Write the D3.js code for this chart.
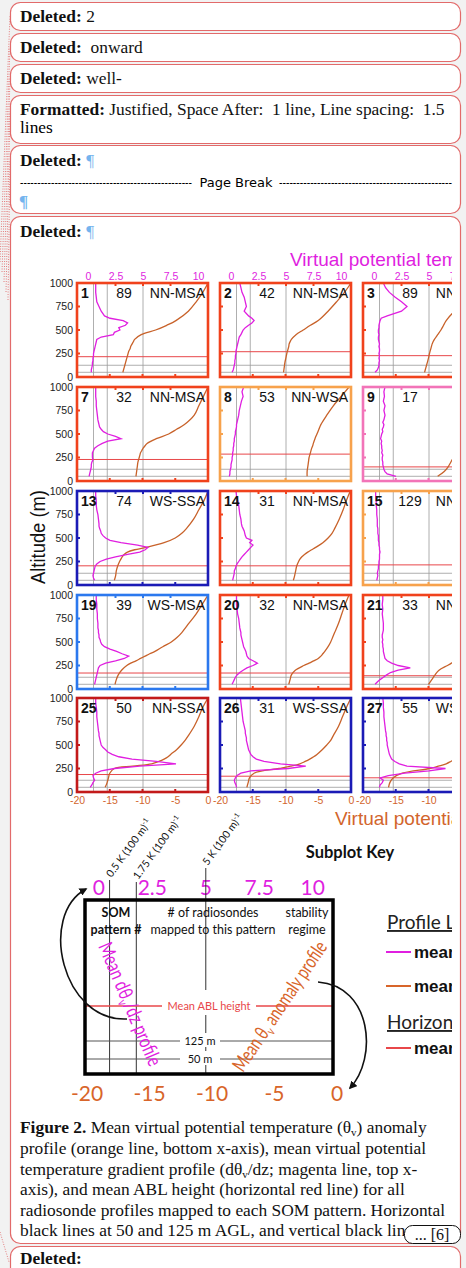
<!DOCTYPE html>
<html>
<head>
<meta charset="utf-8">
<script src="https://cdn.jsdelivr.net/npm/d3@7"></script>
<style>
body { margin: 0; background: #f2f2f2; }
svg { display: block; }
text { white-space: pre; }
</style>
</head>
<body>
<script>
// SOM panels, in reading order (only the first three columns are visible)
var panelIds = [1, 2, 3, 7, 8, 9, 13, 14, 15, 19, 20, 21, 25, 26, 27];
var panelCounts = [89, 42, 89, 32, 53, 17, 74, 31, 129, 39, 32, 33, 50, 31, 55];
var panelRegimes = ["NN-MSA", "NN-MSA", "NN-MSA", "NN-MSA", "NN-WSA", "", "WS-SSA", "NN-MSA", "NN-MSA",
	"WS-MSA", "NN-MSA", "NN-MSA", "NN-SSA", "WS-SSA", "WS-SSA"];
var panelColors = ["#f0421c", "#f0421c", "#f0421c", "#f0421c", "#f7a24c", "#f274b8", "#1b1bb6", "#f0421c", "#f7a24c",
	"#2b78ee", "#f0421c", "#f0421c", "#c31a1a", "#1b1bb6", "#1b1bb6"];
var ablHeights = [216, 269, 227, 229, 286, 150, 204, 204, 214, 170, 170, 141, 186, 168, 151];

// axes
var gradTicks = [0, 2.5, 5, 7.5, 10];
var anomTicks = [-20, -15, -10, -5, 0];
var altTicks = [0, 250, 500, 750, 1000];
var gradRefLines = [0.5, 1.75, 5];
var refHeights = [50, 125];

// mean d(theta_v)/dz profiles, K (100 m)^-1
var gradAlt = [50, 75, 100, 125, 150, 175, 200, 225, 250, 275, 300, 325, 350, 375, 400, 425, 450, 475, 500,
	525, 550, 575, 600, 625, 650, 700, 750, 800, 850, 900, 950, 1000];
var gradProfiles = [
	[0.3, 0.3, 0.35, 0.4, 0.4, 0.45, 0.45, 0.5, 0.5, 0.55, 0.6, 0.65, 0.7, 0.75, 0.8, 1.2, 2.3, 2.4, 2.9, 2.8, 3.4, 3.6, 3.2, 2.0, 1.5, 1.2, 1.0, 0.8, 0.75, 0.7, 0.7, 0.7],
	[0.1, 0.2, 0.25, 0.3, 0.35, 0.35, 0.4, 0.4, 0.45, 0.45, 0.5, 0.55, 0.6, 0.65, 0.7, 0.75, 0.9, 1.0, 1.1, 1.3, 1.6, 1.9, 2.1, 1.9, 1.6, 1.2, 1.4, 1.3, 1.2, 1.0, 0.9, 0.8],
	[0.1, 0.3, 0.4, 0.45, 0.45, 0.5, 0.45, 0.5, 0.45, 0.5, 0.5, 0.45, 0.5, 0.45, 0.4, 0.4, 0.45, 0.4, 0.4, 0.45, 0.45, 0.5, 0.55, 0.65, 1.2, 2.5, 3.0, 2.5, 1.9, 1.4, 1.05, 0.85],
	[0.1, 0.15, 0.2, 0.25, 0.3, 0.3, 0.35, 0.45, 0.4, 0.4, 0.4, 0.5, 0.6, 0.9, 1.3, 1.8, 3.0, 2.5, 1.8, 1.4, 1.2, 1.05, 1.0, 0.95, 0.9, 0.85, 0.8, 0.75, 0.75, 0.7, 0.7, 0.7],
	[-0.15, -0.1, -0.1, -0.05, 0, 0, 0.05, 0.1, 0.1, 0.15, 0.15, 0.2, 0.2, 0.25, 0.25, 0.3, 0.3, 0.35, 0.4, 0.4, 0.45, 0.5, 0.5, 0.55, 0.6, 0.7, 0.75, 0.85, 0.95, 1.1, 1.0, 1.15],
	[2.0, 1.2, 1.0, 0.9, 0.85, 0.8, 0.8, 0.75, 0.75, 0.8, 0.7, 0.75, 0.7, 0.7, 0.65, 0.7, 0.6, 0.65, 0.7, 0.8, 0.75, 0.85, 0.9, 0.8, 0.9, 1.0, 0.9, 1.0, 0.85, 0.95, 0.9, 1.0],
	[0.6, 0.5, 0.45, 0.5, 0.55, 0.6, 0.65, 0.8, 1.1, 1.67, 2.5, 3.6, 4.7, 5.2, 5.45, 4.5, 3.0, 2.0, 1.6, 1.36, 1.2, 1.15, 1.06, 1.0, 1.0, 0.95, 0.9, 0.8, 0.75, 0.75, 0.7, 0.7],
	[0.15, 0.2, 0.25, 0.3, 0.3, 0.4, 0.45, 0.55, 0.7, 0.85, 1.0, 1.2, 1.4, 1.6, 1.8, 2.0, 1.7, 1.9, 1.4, 1.3, 1.25, 1.2, 1.1, 1.0, 0.95, 0.9, 0.8, 0.75, 0.7, 0.6, 0.5, 0.45],
	[0.25, 0.3, 0.35, 0.3, 0.35, 0.4, 0.4, 0.45, 0.45, 0.5, 0.5, 0.5, 0.55, 0.5, 0.5, 0.45, 0.45, 0.4, 0.4, 0.4, 0.35, 0.35, 0.35, 0.3, 0.3, 0.3, 0.25, 0.25, 0.2, 0.2, 0.15, 0.15],
	[0.6, 0.65, 0.7, 0.75, 0.8, 0.85, 0.9, 0.95, 1.1, 1.6, 2.5, 3.3, 3.7, 3.1, 2.6, 2.0, 1.5, 1.25, 1.15, 1.1, 1.0, 1.0, 0.95, 0.95, 0.9, 0.9, 0.85, 0.85, 0.8, 0.8, 0.75, 0.75],
	[0.1, 0.2, 0.3, 0.4, 0.55, 0.8, 1.1, 1.45, 2.0, 2.4, 2.0, 1.6, 1.45, 1.4, 1.35, 1.25, 1.15, 1.1, 1.05, 1.0, 0.95, 0.9, 0.9, 0.85, 0.8, 0.75, 0.7, 0.6, 0.55, 0.5, 0.5, 0.5],
	[0.1, 0.3, 0.55, 0.85, 1.15, 1.5, 2.2, 3.3, 2.2, 1.6, 1.2, 1.0, 0.95, 0.9, 0.85, 0.85, 0.8, 0.8, 0.75, 0.8, 0.75, 0.75, 0.8, 0.85, 0.85, 0.85, 0.8, 0.75, 0.8, 0.75, 0.8, 0.8],
	[0.2, 0.35, 0.45, 0.6, 0.5, 0.45, 0.7, 1.2, 2.4, 4.7, 8.0, 6.2, 4.0, 2.8, 2.2, 1.8, 1.6, 1.35, 1.2, 1.15, 1.1, 1.05, 1.0, 1.0, 0.95, 0.9, 0.85, 0.8, 0.8, 0.75, 0.7, 0.7],
	[0.5, 0.45, 0.35, 0.3, 0.4, 0.55, 0.9, 1.8, 5.2, 6.8, 4.5, 3.0, 2.3, 2.0, 1.8, 1.7, 1.6, 1.55, 1.5, 1.45, 1.4, 1.4, 1.35, 1.3, 1.3, 1.2, 1.1, 1.05, 1.0, 0.95, 0.9, 0.85],
	[0.5, 0.55, 0.75, 0.85, 0.55, 1.3, 2.8, 5.0, 6.5, 3.0, 2.3, 1.9, 1.6, 1.5, 1.4, 1.35, 1.3, 1.25, 1.2, 1.2, 1.15, 1.15, 1.1, 1.1, 1.05, 1.0, 0.95, 0.9, 0.9, 0.85, 0.85, 0.8]
];

// mean theta_v anomaly profiles, K
var anomAlt = [50, 100, 150, 200, 250, 275, 300, 325, 350, 375, 400, 450, 500, 550, 600, 700, 800, 900, 1000];
var anomProfiles = [
	[-13.0, -12.8, -12.6, -12.4, -12.2, -12.1, -11.9, -11.8, -11.6, -11.4, -11.2, -10.2, -8.0, -6.3, -4.9, -3.0, -1.8, -0.8, 0],
	[-10.3, -10.2, -10.1, -9.95, -9.8, -9.7, -9.6, -9.5, -9.45, -9.3, -9.1, -8.4, -7.3, -6.2, -5.0, -3.5, -2.2, -1.0, 0],
	[-10.6, -10.4, -10.2, -10.0, -9.85, -9.75, -9.65, -9.55, -9.45, -9.3, -9.1, -8.6, -8.1, -7.7, -7.3, -6.0, -4.0, -2.0, 0],
	[-11.0, -10.9, -10.8, -10.7, -10.5, -10.4, -10.3, -10.1, -9.9, -9.6, -9.3, -7.9, -6.0, -4.8, -3.6, -2.1, -1.4, -0.7, 0],
	[-6.7, -6.7, -6.6, -6.5, -6.4, -6.3, -6.2, -6.1, -6.0, -5.85, -5.75, -5.5, -5.2, -4.9, -4.6, -3.7, -2.7, -1.5, -0.3],
	[-8.6, -7.6, -7.0, -6.6, -6.2, -6.0, -5.7, -5.5, -5.2, -5.0, -4.8, -4.3, -3.9, -3.4, -3.0, -2.2, -1.5, -0.8, 0],
	[-14.3, -14.1, -14.0, -13.8, -13.5, -13.3, -13.1, -12.8, -12.3, -11.2, -9.4, -6.7, -5.0, -4.0, -3.3, -2.2, -1.4, -0.6, 0],
	[-8.8, -8.6, -8.45, -8.3, -8.0, -7.8, -7.5, -7.1, -6.6, -6.0, -5.4, -4.3, -3.5, -2.9, -2.5, -1.8, -1.2, -0.7, -0.1],
	[-6.2, -6.1, -6.0, -5.9, -5.8, -5.7, -5.6, -5.5, -5.4, -5.3, -5.2, -4.9, -4.6, -4.2, -3.8, -3.0, -2.0, -1.0, 0],
	[-14.2, -14.0, -13.7, -13.2, -12.4, -11.8, -11.0, -10.3, -9.6, -8.9, -8.1, -6.9, -5.6, -4.7, -4.0, -2.9, -1.8, -0.9, 0],
	[-9.5, -9.3, -9.1, -8.5, -7.2, -6.4, -5.7, -5.0, -4.6, -4.3, -4.0, -3.5, -3.1, -2.8, -2.5, -1.9, -1.4, -0.9, -0.3],
	[-10.0, -9.5, -9.0, -8.4, -7.1, -6.5, -6.0, -5.6, -5.2, -4.9, -4.6, -4.1, -3.6, -3.2, -2.8, -2.1, -1.4, -0.7, 0],
	[-15.7, -15.4, -15.2, -15.0, -14.3, -11.5, -8.6, -7.5, -6.7, -6.1, -5.7, -4.8, -4.1, -3.5, -3.0, -2.1, -1.4, -0.8, 0],
	[-15.9, -15.7, -15.5, -14.8, -11.0, -9.2, -7.8, -7.0, -6.3, -5.7, -5.2, -4.4, -3.7, -3.1, -2.7, -1.9, -1.3, -0.7, 0],
	[-16.1, -15.9, -15.4, -14.0, -9.8, -8.5, -7.3, -6.6, -6.0, -5.5, -5.1, -4.4, -3.8, -3.3, -2.9, -2.1, -1.4, -0.7, 0]
];

var W = 466, H = 1268;
var MAG = "#e01fe0", ORA = "#c8622a", ABL = "#e8474a";
var sansF = "'Liberation Sans', Arial, sans-serif";
var serifF = "'Liberation Serif', 'Times New Roman', serif";
var keyF = "Lato, 'Open Sans', sans-serif";
var plain = function(d) { return String(d); };

var svg = d3.select("body").append("svg").attr("width", W).attr("height", H);

var defs = svg.append("defs");
defs.append("clipPath").attr("id", "figclip")
	.append("rect").attr("x", 10).attr("y", 216).attr("width", 442).attr("height", 1020);
defs.append("marker").attr("id", "arrow").attr("viewBox", "0 0 10 10")
	.attr("refX", 8).attr("refY", 5).attr("markerWidth", 5).attr("markerHeight", 5)
	.attr("orient", "auto")
	.append("path").attr("d", "M0,0L10,5L0,10z").attr("fill", "#111");

// left margin connector lines
var connectors = [[0, 262, 10, 16], [2, 272, 10, 47], [4, 282, 10, 78], [6, 292, 10, 112], [8, 300, 10, 160], [0, 1232, 9, 1262]];
connectors.forEach(function(c) {
	svg.append("line").attr("x1", c[0]).attr("y1", c[1]).attr("x2", c[2]).attr("y2", c[3])
		.attr("stroke", "#e06060").attr("stroke-width", 0.8).attr("stroke-dasharray", "1,1.5");
});

// comment balloons
var balloons = [[2, 28], [33, 28], [64, 28], [95, 48], [145, 68], [216, 1027], [1246, 40]];
balloons.forEach(function(b) {
	svg.append("rect").attr("x", 10.5).attr("y", b[0] + 0.5).attr("width", 450).attr("height", b[1])
		.attr("rx", 10).attr("fill", "#fff").attr("stroke", "#e26a6a").attr("stroke-width", 1.2);
});

function balloonText(y, label, rest, restFill) {
	var t = svg.append("text").attr("x", 20).attr("y", y)
		.style("font-family", serifF).style("font-size", "17.4px").attr("fill", "#111");
	t.append("tspan").style("font-weight", "bold").text(label);
	if (rest) t.append("tspan").attr("fill", restFill || "#111").text(rest);
	return t;
}
balloonText(22, "Deleted:", " 2");
balloonText(53, "Deleted:", "  onward");
balloonText(84, "Deleted:", " well-");
balloonText(115, "Formatted:", " Justified, Space After:  1 line, Line spacing:  1.5");
svg.append("text").attr("x", 20).attr("y", 133).style("font-family", serifF).style("font-size", "17.4px").text("lines");
balloonText(166, "Deleted:", " ¶", "#74b4ee");
svg.append("text").attr("x", 20).attr("y", 187).attr("textLength", 172).attr("lengthAdjust", "spacingAndGlyphs")
	.style("font-family", "'DejaVu Sans', sans-serif").style("font-size", "13px").text("--------------------------------------------------");
svg.append("text").attr("x", 236).attr("y", 187).attr("text-anchor", "middle")
	.style("font-family", "'DejaVu Sans', sans-serif").style("font-size", "13px").text("Page Break");
svg.append("text").attr("x", 279).attr("y", 187).attr("textLength", 173).attr("lengthAdjust", "spacingAndGlyphs")
	.style("font-family", "'DejaVu Sans', sans-serif").style("font-size", "13px").text("--------------------------------------------------");
svg.append("text").attr("x", 19).attr("y", 207).attr("fill", "#74b4ee")
	.style("font-family", serifF).style("font-size", "17px").style("font-weight", "bold").text("¶");
balloonText(237, "Deleted:", " ¶", "#74b4ee");
balloonText(1264, "Deleted:", "");

// ---- figure: small multiples ----
var fig = svg.append("g").attr("clip-path", "url(#figclip)");
var colLeft = [77, 220, 363], rowTop = [283, 387, 491, 595, 698];
var pw = 131, ph = 94;

var xGrad = d3.scaleLinear().domain([-1, 120 / 11]).range([0, pw]);
var xAnom = d3.scaleLinear().domain([-20, 0]).range([0, pw]);
var yAlt = d3.scaleLinear().domain([0, 1000]).range([ph, 0]);

var gradLine = d3.line().x(function(d) { return xGrad(d[1]); }).y(function(d) { return yAlt(d[0]); });
var anomLine = d3.line().x(function(d) { return xAnom(d[1]); }).y(function(d) { return yAlt(d[0]); })
	.curve(d3.curveCatmullRom.alpha(0.5));

fig.append("text").attr("x", 290).attr("y", 266).attr("fill", MAG)
	.style("font-family", sansF).style("font-size", "19px").text("Virtual potential temperature gradient");
fig.append("text").attr("x", 335).attr("y", 825).attr("fill", "#d2652c")
	.style("font-family", sansF).style("font-size", "19px").text("Virtual potential temperature anomaly");
fig.append("text").attr("transform", "translate(45,537) rotate(-90)").attr("text-anchor", "middle")
	.attr("textLength", 94).attr("lengthAdjust", "spacingAndGlyphs")
	.style("font-family", sansF).style("font-size", "20px").attr("fill", "#111").text("Altitude (m)");

panelIds.forEach(function(id, i) {
	var col = i % 3, row = Math.floor(i / 3);
	var g = fig.append("g").attr("transform", "translate(" + colLeft[col] + "," + rowTop[row] + ")");
	var color = panelColors[i];

	g.append("rect").attr("width", pw).attr("height", ph).attr("fill", "#fff");

	g.selectAll(".vref").data(gradRefLines).enter().append("line")
		.attr("x1", function(d) { return xGrad(d); }).attr("x2", function(d) { return xGrad(d); })
		.attr("y1", 0).attr("y2", ph).attr("stroke", "#9a9a9a").attr("stroke-width", 0.8);
	g.selectAll(".href").data(refHeights).enter().append("line")
		.attr("x1", 0).attr("x2", pw).attr("y1", function(d) { return yAlt(d); }).attr("y2", function(d) { return yAlt(d); })
		.attr("stroke", "#9a9a9a").attr("stroke-width", 0.8);
	g.append("line").attr("x1", 0).attr("x2", pw).attr("y1", yAlt(ablHeights[i])).attr("y2", yAlt(ablHeights[i]))
		.attr("stroke", ABL).attr("stroke-width", 1);

	var gp = gradAlt.map(function(a, k) { return [a, gradProfiles[i][k]]; });
	var ap = anomAlt.map(function(a, k) { return [a, anomProfiles[i][k]]; });
	g.append("path").attr("d", anomLine(ap)).attr("fill", "none").attr("stroke", ORA).attr("stroke-width", 1.3);
	g.append("path").attr("d", gradLine(gp)).attr("fill", "none").attr("stroke", MAG).attr("stroke-width", 1.3);

	// inward ticks in frame colour
	[250, 500, 750].forEach(function(a) {
		g.append("line").attr("x1", 0).attr("x2", 3).attr("y1", yAlt(a)).attr("y2", yAlt(a)).attr("stroke", color).attr("stroke-width", 2);
	});
	[-15, -10, -5].forEach(function(v) {
		g.append("line").attr("x1", xAnom(v)).attr("x2", xAnom(v)).attr("y1", ph).attr("y2", ph - 3).attr("stroke", color).attr("stroke-width", 2);
	});
	[2.5, 5, 7.5].forEach(function(v) {
		g.append("line").attr("x1", xGrad(v)).attr("x2", xGrad(v)).attr("y1", 0).attr("y2", 3).attr("stroke", color).attr("stroke-width", 2);
	});
	g.append("rect").attr("width", pw).attr("height", ph).attr("fill", "none")
		.attr("stroke", color).attr("stroke-width", 2.6);

	g.append("text").attr("x", 4).attr("y", 15).style("font-family", sansF).style("font-size", "14px")
		.style("font-weight", "bold").attr("fill", "#111").text(id);
	g.append("text").attr("x", 47).attr("y", 15).attr("text-anchor", "middle").style("font-family", sansF)
		.style("font-size", "14px").attr("fill", "#111").text(panelCounts[i]);
	g.append("text").attr("x", pw - 3).attr("y", 15).attr("text-anchor", "end").style("font-family", sansF)
		.style("font-size", "14px").attr("fill", "#111").text(panelRegimes[i]);

	if (col === 0) {
		var ya = g.append("g").call(d3.axisLeft(yAlt).tickValues(altTicks).tickFormat(plain).tickSize(0).tickPadding(4));
		ya.select(".domain").remove();
		ya.selectAll("text").style("font-family", sansF).style("font-size", "10.5px").attr("fill", "#222");
	}
	if (row === 0) {
		var xt = g.append("g").call(d3.axisTop(xGrad).tickValues(gradTicks).tickFormat(plain).tickSize(0).tickPadding(3));
		xt.select(".domain").remove();
		xt.selectAll("text").style("font-family", sansF).style("font-size", "10.5px").attr("fill", MAG);
	}
	if (row === 4) {
		var xb = g.append("g").attr("transform", "translate(0," + ph + ")")
			.call(d3.axisBottom(xAnom).tickValues(anomTicks).tickFormat(plain).tickSize(0).tickPadding(5));
		xb.select(".domain").remove();
		xb.selectAll("text").style("font-family", sansF).style("font-size", "10.5px").attr("fill", "#d2652c");
	}
});

// ---- subplot key ----
var key = fig.append("g");
var kGrad = d3.scaleLinear().domain([-0.65, 10.95]).range([85, 333]);
var kAnom = d3.scaleLinear().domain([-20, 0]).range([87, 337]);
var kTop = 900, kBot = 1074;

key.append("text").attr("x", 350).attr("y", 858).attr("text-anchor", "middle").style("font-family", keyF)
	.style("font-size", "16.5px").style("font-weight", "bold").attr("fill", "#111").text("Subplot Key");

gradTicks.forEach(function(v) {
	key.append("text").attr("x", kGrad(v)).attr("y", 895).attr("text-anchor", "middle").style("font-family", keyF)
		.style("font-size", "21px").attr("fill", MAG).text(v);
});
anomTicks.forEach(function(v) {
	key.append("text").attr("x", kAnom(v)).attr("y", 1101).attr("text-anchor", "middle").style("font-family", keyF)
		.style("font-size", "21px").attr("fill", "#d8652a").text(v);
});

var refLabelY = [880, 882, 868];
gradRefLines.forEach(function(v, k) {
	var x = kGrad(v);
	if (v === 5) {
		key.append("line").attr("x1", x).attr("x2", x).attr("y1", refLabelY[k]).attr("y2", 990).attr("stroke", "#333").attr("stroke-width", 1);
		key.append("line").attr("x1", x).attr("x2", x).attr("y1", 1015).attr("y2", kBot).attr("stroke", "#333").attr("stroke-width", 1);
	} else {
		key.append("line").attr("x1", x).attr("x2", x).attr("y1", refLabelY[k]).attr("y2", kBot).attr("stroke", "#333").attr("stroke-width", 1);
	}
	var t = key.append("text").attr("transform", "translate(" + (x + 2) + "," + (refLabelY[k] - 2) + ") rotate(-54)")
		.style("font-family", keyF).style("font-size", "10.5px").attr("fill", "#111");
	t.append("tspan").text(v + " K (100 m)");
	t.append("tspan").attr("dy", -4).style("font-size", "7px").text("-1");
});

// ABL and reference heights in the key
key.append("line").attr("x1", 85).attr("x2", 162).attr("y1", 1006).attr("y2", 1006).attr("stroke", ABL).attr("stroke-width", 1.5);
key.append("line").attr("x1", 256).attr("x2", 333).attr("y1", 1006).attr("y2", 1006).attr("stroke", ABL).attr("stroke-width", 1.5);
key.append("text").attr("x", 209).attr("y", 1010).attr("text-anchor", "middle").style("font-family", keyF)
	.style("font-size", "11px").attr("fill", ABL).text("Mean ABL height");
var refKeyY = [1059, 1041];
refHeights.forEach(function(h, k) {
	key.append("line").attr("x1", 85).attr("x2", 180).attr("y1", refKeyY[k]).attr("y2", refKeyY[k]).attr("stroke", "#555").attr("stroke-width", 1);
	key.append("line").attr("x1", 220).attr("x2", 333).attr("y1", refKeyY[k]).attr("y2", refKeyY[k]).attr("stroke", "#555").attr("stroke-width", 1);
	key.append("rect").attr("x", 182).attr("y", refKeyY[k] - 8).attr("width", 36).attr("height", 14).attr("fill", "#fff");
	key.append("text").attr("x", 200).attr("y", refKeyY[k] + 4).attr("text-anchor", "middle").style("font-family", keyF)
		.style("font-size", "11px").attr("fill", "#111").text(h + " m");
});

key.append("rect").attr("x", 85).attr("y", kTop).attr("width", 248).attr("height", kBot - kTop)
	.attr("fill", "none").attr("stroke", "#000").attr("stroke-width", 3.5);

function keyLabel(x, y, str, bold) {
	key.append("text").attr("x", x).attr("y", y).attr("text-anchor", "middle").style("font-family", keyF)
		.style("font-size", "12.5px").style("font-weight", bold ? "bold" : "normal").attr("fill", "#111").text(str);
}
keyLabel(116, 917, "SOM", true);
keyLabel(116, 934, "pattern #", true);
keyLabel(213, 917, "# of radiosondes", false);
keyLabel(213, 934, "mapped to this pattern", false);
keyLabel(307, 917, "stability", false);
keyLabel(307, 934, "regime", false);

var mg = key.append("text").attr("transform", "translate(98,946) rotate(67)").attr("textLength", 132)
	.attr("lengthAdjust", "spacingAndGlyphs").style("font-family", keyF).style("font-size", "20px").attr("fill", MAG);
mg.append("tspan").text("Mean dθ");
mg.append("tspan").attr("dy", 4).style("font-size", "13px").text("v");
mg.append("tspan").attr("dy", -4).text("/dz profile");

var og = key.append("text").attr("transform", "translate(243,1073) rotate(-56)").attr("textLength", 152)
	.attr("lengthAdjust", "spacingAndGlyphs").style("font-family", keyF).style("font-size", "20px").attr("fill", "#d8652a");
og.append("tspan").text("Mean θ");
og.append("tspan").attr("dy", 4).style("font-size", "13px").text("v");
og.append("tspan").attr("dy", -4).text(" anomaly profile");

key.append("path").attr("d", "M127,1019 C62,1022 38,915 86,889").attr("fill", "none")
	.attr("stroke", "#111").attr("stroke-width", 1.6).attr("marker-end", "url(#arrow)");
key.append("path").attr("d", "M318,982 C372,986 378,1058 350,1088").attr("fill", "none")
	.attr("stroke", "#111").attr("stroke-width", 1.6).attr("marker-end", "url(#arrow)");

// legend (cut off at the balloon edge)
var leg = key.append("g").style("font-family", keyF);
leg.append("text").attr("x", 387).attr("y", 929).style("font-size", "19px").attr("fill", "#222")
	.style("text-decoration", "underline").text("Profile Lines");
leg.append("text").attr("x", 387).attr("y", 1029).style("font-size", "19px").attr("fill", "#222")
	.style("text-decoration", "underline").text("Horizontal Lines");
var legItems = [[952, MAG, "mean dθv/dz"], [986, "#d8652a", "mean θv anomaly"], [1048, ABL, "mean ABL height"]];
legItems.forEach(function(d) {
	leg.append("line").attr("x1", 386).attr("x2", 411).attr("y1", d[0]).attr("y2", d[0]).attr("stroke", d[1]).attr("stroke-width", 2);
	leg.append("text").attr("x", 414).attr("y", d[0] + 6).style("font-family", sansF).style("font-size", "17px")
		.style("font-weight", "bold").attr("fill", "#111").text(d[2]);
});

// ---- caption ----
var capLines = [
	[["b", "Figure 2."], ["", " Mean virtual potential temperature (θ"], ["s", "v"], ["r", ") anomaly"]],
	[["", "profile (orange line, bottom x-axis), mean virtual potential"]],
	[["", "temperature gradient profile (dθ"], ["s", "v"], ["r", "/dz; magenta line, top x-"]],
	[["", "axis), and mean ABL height (horizontal red line) for all"]],
	[["", "radiosonde profiles mapped to each SOM pattern. Horizontal"]],
	[["", "black lines at 50 and 125 m AGL, and vertical black lines"]]
];
var capY = [1133, 1154, 1175, 1195, 1216, 1236];
capLines.forEach(function(parts, k) {
	var t = svg.append("text").attr("x", 20).attr("y", capY[k]).style("font-family", serifF)
		.style("font-size", "17.4px").attr("fill", "#111");
	parts.forEach(function(p) {
		var s = t.append("tspan").text(p[1]);
		if (p[0] === "b") s.style("font-weight", "bold");
		if (p[0] === "s") s.attr("dy", 3).style("font-size", "11px");
		if (p[0] === "r") s.attr("dy", -3);
	});
});
svg.append("rect").attr("x", 404.5).attr("y", 1225.5).attr("width", 56).attr("height", 18).attr("rx", 8)
	.attr("fill", "#fff").attr("stroke", "#111").attr("stroke-width", 1);
svg.append("text").attr("x", 432).attr("y", 1240).attr("text-anchor", "middle").style("font-family", serifF)
	.style("font-size", "16px").attr("fill", "#111").text("... [6]");
</script>
</body>
</html>
